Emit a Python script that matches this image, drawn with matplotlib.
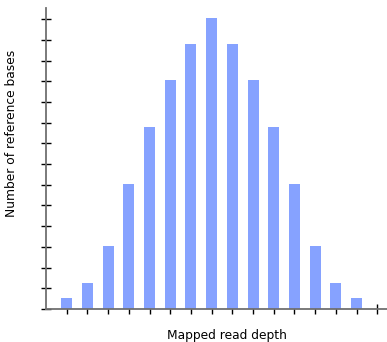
import numpy as np
import matplotlib
matplotlib.use("Agg")
import matplotlib.pyplot as plt

# read depth bins and counts (arbitrary units)
depth = list(range(16))
bases = [0.53, 1.26, 3.04, 6.04, 8.8, 11.06, 12.8, 14.06,
         12.8, 11.06, 8.8, 6.04, 3.04, 1.26, 0.53, 0.0]

fig = plt.figure(figsize=(3.87, 3.42), dpi=100)
ax = fig.add_axes([46 / 387, 33 / 342, 341 / 387, 301 / 342])

ax.bar(depth, bases, width=0.53, color="#86a2ff", zorder=2)

ax.set_xlim(-1, 15.47)
ax.set_ylim(0, 14.54)
ax.set_xticks(depth)
ax.set_yticks(range(15))
ax.set_xticklabels([])
ax.set_yticklabels([])
ax.tick_params(direction="inout", length=7.5, width=1, color="black")

for s in ("top", "right"):
    ax.spines[s].set_visible(False)
for s in ("left", "bottom"):
    ax.spines[s].set_color("#707070")
    ax.spines[s].set_linewidth(1.3)

ax.set_xlabel("Mapped read depth", fontsize=8.8)
ax.set_ylabel("Number of reference bases", fontsize=8.8)
ax.xaxis.set_label_coords((227 - 46) / 341, -(335 - 309) / 301, transform=ax.transAxes)
ax.yaxis.set_label_coords(-(46 - 12) / 341, (309 - 133) / 301, transform=ax.transAxes)
ax.xaxis.label.set_va("center")
ax.yaxis.label.set_va("center")

fig.savefig("out.png", dpi=100)
